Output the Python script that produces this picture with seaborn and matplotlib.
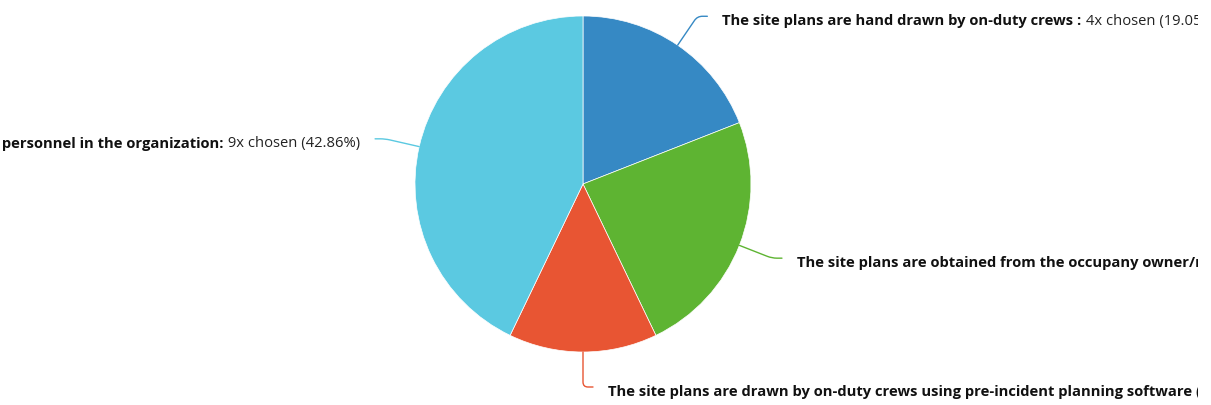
import matplotlib
matplotlib.use("Agg")
import numpy as np
import matplotlib.pyplot as plt
from matplotlib.path import Path
from matplotlib.patches import PathPatch
from matplotlib.transforms import Bbox, TransformedBbox
import seaborn as sns

# Survey answers, in the order the slices run clockwise from 12 o'clock
answers = [
    "The site plans are hand drawn by on-duty crews :",
    "The site plans are obtained from the occupany owner/representative:",
    "The site plans are drawn by on-duty crews using pre-incident planning software (in-house):",
    "The site plans are drawn by designated personnel in the organization:",
]
counts = [4, 5, 3, 9]
colors = ["#3689c4", "#5eb432", "#e85533", "#5bc9e1"]
# which side each label sits on (+1 right, -1 left)
sides = [1, 1, 1, -1]

sns.set_theme(style="white")
plt.rcParams["font.family"] = ["Open Sans", "DejaVu Sans"]

W, H = 1211, 406
fig = plt.figure(figsize=(W / 100, H / 100), dpi=100)
ax = fig.add_axes([0, 0, 1, 1])

cx, cy, R = 583, H - 185, 168
wedges, _ = ax.pie(
    counts, colors=colors, startangle=90, counterclock=False,
    center=(cx, cy), radius=R,
    wedgeprops=dict(edgecolor="white", linewidth=0.5),
)
ax.set_xlim(0, W)
ax.set_ylim(0, H)
ax.set_aspect("equal")
ax.axis("off")

# labels are cut at the right edge of the plotting container
label_clip = TransformedBbox(Bbox([[-50, 0], [1198, H]]), ax.transData)

total = sum(counts)
radial = 35      # straight part of the connector
bend = 10        # horizontal run after the bend
corner = 5       # rounding of the bend
gap = 15         # space between connector end and label
fs = 10.6

for w, ans, n, col, side in zip(wedges, answers, counts, colors, sides):
    th = np.deg2rad((w.theta1 + w.theta2) / 2)
    d = np.array([np.cos(th), np.sin(th)])
    p0 = np.array([cx, cy]) + R * d
    p1 = np.array([cx, cy]) + (R + radial) * d
    pa = p1 - corner * d
    pb = p1 + np.array([side * corner, 0])
    p2 = p1 + np.array([side * bend, 0])
    path = Path([p0, pa, p1, pb, p2],
                [Path.MOVETO, Path.LINETO, Path.CURVE3, Path.CURVE3, Path.LINETO])
    ax.add_patch(PathPatch(path, fill=False, edgecolor=col, linewidth=1.0,
                           capstyle="round"))

    tx = p2[0] + side * gap
    ty = p2[1] - 4
    tail = f" {n}x chosen ({n / total * 100:.2f}%)"
    if side > 0:
        t1 = ax.text(tx, ty, ans, ha="left", va="center", fontsize=fs,
                     fontweight="bold", color="#111111")
        t2 = ax.annotate(tail, xy=(1, 0.5), xycoords=t1, ha="left", va="center",
                         fontsize=fs, color="#222222")
    else:
        t1 = ax.text(tx, ty, tail, ha="right", va="center", fontsize=fs,
                     color="#222222")
        t2 = ax.annotate(ans, xy=(0, 0.5), xycoords=t1, ha="right", va="center",
                         fontsize=fs, fontweight="bold", color="#111111")
    for t in (t1, t2):
        t.set_clip_box(label_clip)
        t.set_clip_on(True)

fig.savefig("out.png", dpi=100, facecolor="white")
